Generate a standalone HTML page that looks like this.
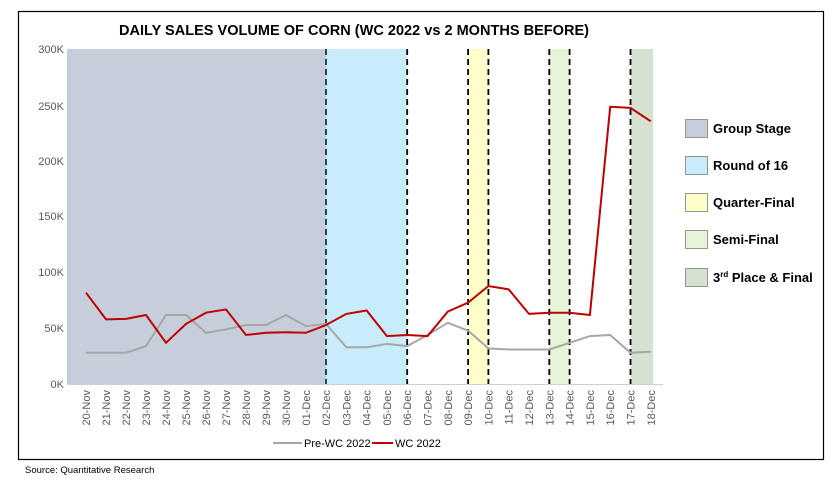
<!DOCTYPE html>
<html><head><meta charset="utf-8"><style>
body{margin:0;background:#fff;}
svg{display:block;font-family:"Liberation Sans",sans-serif;}
</style></head><body>
<svg width="833" height="486" viewBox="0 0 833 486">
<rect x="18.5" y="11.5" width="805" height="448" fill="#fff" stroke="#000" stroke-width="1.2"/>
<text x="119" y="35" textLength="470" lengthAdjust="spacingAndGlyphs" font-size="14.5" font-weight="bold" fill="#000">DAILY SALES VOLUME OF CORN (WC 2022 vs 2 MONTHS BEFORE)</text>
<rect x="67" y="49" width="259" height="335" fill="#c7cedb"/>
<rect x="326" y="49" width="81" height="335" fill="#c9ecfa"/>
<rect x="468" y="49" width="21" height="335" fill="#ffffcc"/>
<rect x="549" y="49" width="21" height="335" fill="#e6f4da"/>
<rect x="631" y="49" width="22" height="335" fill="#d6e2d1"/>
<g stroke="#000" stroke-width="1.8" stroke-dasharray="6,4">
<line x1="326" y1="49" x2="326" y2="384" stroke="#1a3347"/>
<line x1="407.2" y1="49" x2="407.2" y2="384"/>
<line x1="468.1" y1="49" x2="468.1" y2="384"/>
<line x1="488.4" y1="49" x2="488.4" y2="384"/>
<line x1="549.3" y1="49" x2="549.3" y2="384"/>
<line x1="569.6" y1="49" x2="569.6" y2="384"/>
<line x1="630.5" y1="49" x2="630.5" y2="384"/>
</g>
<line x1="67" y1="384.5" x2="663" y2="384.5" stroke="#d0d0d0" stroke-width="1"/>
<g font-size="11" fill="#595959" text-anchor="end">
<text x="64" y="53">300K</text><text x="64" y="110">250K</text><text x="64" y="165">200K</text>
<text x="64" y="220">150K</text><text x="64" y="276">100K</text><text x="64" y="332">50K</text><text x="64" y="388">0K</text>
</g>
<polyline fill="none" stroke="#a6a6a6" stroke-width="2" points="86,352.8 106,352.8 126,352.8 146,346.1 166,315 186,315 206,332.8 226,329.4 246,325 266,325 286,315 306,326.1 326,323.9 346.3,347.3 366.6,347.3 386.9,343.9 407.2,346.1 427.5,335 447.8,322.8 468.1,330.6 488.4,348.4 508.7,349.5 529,349.5 549.3,349.5 569.6,342.8 589.9,336.1 610.2,335 630.5,352.8 650.8,351.7"/>
<polyline fill="none" stroke="#c00000" stroke-width="2" points="86,292.7 106,319.4 126,318.9 146,315 166,342.8 186,323.9 206,312.7 226,309.4 246,335 266,332.8 286,332.2 306,332.8 326,325 346.3,313.9 366.6,310.5 386.9,336.1 407.2,335 427.5,336.1 447.8,311.6 468.1,302.7 488.4,286 508.7,289.4 529,313.9 549.3,312.7 569.6,312.7 589.9,315 610.2,106.8 630.5,107.9 650.8,121.3"/>
<g font-size="11" fill="#595959" text-anchor="end">
<text transform="translate(90,390) rotate(-90)">20-Nov</text>
<text transform="translate(110,390) rotate(-90)">21-Nov</text>
<text transform="translate(130,390) rotate(-90)">22-Nov</text>
<text transform="translate(150,390) rotate(-90)">23-Nov</text>
<text transform="translate(170,390) rotate(-90)">24-Nov</text>
<text transform="translate(190,390) rotate(-90)">25-Nov</text>
<text transform="translate(210,390) rotate(-90)">26-Nov</text>
<text transform="translate(230,390) rotate(-90)">27-Nov</text>
<text transform="translate(250,390) rotate(-90)">28-Nov</text>
<text transform="translate(270,390) rotate(-90)">29-Nov</text>
<text transform="translate(290,390) rotate(-90)">30-Nov</text>
<text transform="translate(310,390) rotate(-90)">01-Dec</text>
<text transform="translate(330,390) rotate(-90)">02-Dec</text>
<text transform="translate(350.3,390) rotate(-90)">03-Dec</text>
<text transform="translate(370.6,390) rotate(-90)">04-Dec</text>
<text transform="translate(390.9,390) rotate(-90)">05-Dec</text>
<text transform="translate(411.2,390) rotate(-90)">06-Dec</text>
<text transform="translate(431.5,390) rotate(-90)">07-Dec</text>
<text transform="translate(451.8,390) rotate(-90)">08-Dec</text>
<text transform="translate(472.1,390) rotate(-90)">09-Dec</text>
<text transform="translate(492.4,390) rotate(-90)">10-Dec</text>
<text transform="translate(512.7,390) rotate(-90)">11-Dec</text>
<text transform="translate(533,390) rotate(-90)">12-Dec</text>
<text transform="translate(553.3,390) rotate(-90)">13-Dec</text>
<text transform="translate(573.6,390) rotate(-90)">14-Dec</text>
<text transform="translate(593.9,390) rotate(-90)">15-Dec</text>
<text transform="translate(614.2,390) rotate(-90)">16-Dec</text>
<text transform="translate(634.5,390) rotate(-90)">17-Dec</text>
<text transform="translate(654.8,390) rotate(-90)">18-Dec</text>
</g>
<line x1="273" y1="443" x2="302" y2="443" stroke="#a6a6a6" stroke-width="2"/>
<text x="304" y="447" font-size="11" fill="#000">Pre-WC 2022</text>
<line x1="372" y1="443" x2="393" y2="443" stroke="#c00000" stroke-width="2"/>
<text x="395" y="447" font-size="11" fill="#000">WC 2022</text>
<text x="25" y="473" font-size="9.5" fill="#000">Source: Quantitative Research</text>
<g stroke="#7f7f7f" stroke-width="0.8">
<rect x="685.5" y="119.5" width="22" height="18" fill="#c7cedb"/>
<rect x="685.5" y="156.5" width="22" height="18" fill="#c9ecfa"/>
<rect x="685.5" y="193.5" width="22" height="18" fill="#ffffcc"/>
<rect x="685.5" y="230.5" width="22" height="18" fill="#e6f4da"/>
<rect x="685.5" y="268.5" width="22" height="18" fill="#d6e2d1"/>
</g>
<g font-size="13" font-weight="bold" fill="#000">
<text x="713" y="133">Group Stage</text>
<text x="713" y="170">Round of 16</text>
<text x="713" y="207">Quarter-Final</text>
<text x="713" y="244">Semi-Final</text>
<text x="713" y="282">3<tspan font-size="8" dy="-5">rd</tspan><tspan dy="5"> Place &amp; Final</tspan></text>
</g>
</svg>
</body></html>
